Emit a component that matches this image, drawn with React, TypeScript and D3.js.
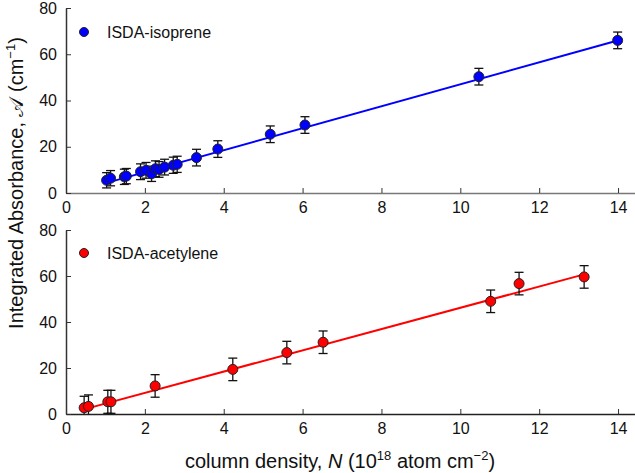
import React, { useEffect, useRef } from "react";
import * as d3 from "d3";

// ISDA-isoprene (top panel)
const isopreneN = [1.03, 1.13, 1.48, 1.53, 1.89, 2.03, 2.17, 2.27, 2.36, 2.5, 2.72, 2.82, 3.31, 3.85, 5.18, 6.06, 10.47, 13.99];
const isopreneA = [5.5, 6.4, 7.0, 7.3, 9.2, 9.8, 8.3, 10.5, 10.2, 11.2, 12.0, 12.4, 15.3, 19.0, 25.4, 29.4, 50.3, 66.0];
const isopreneErr = [3.3, 3.3, 3.3, 3.3, 3.4, 3.4, 3.3, 3.4, 3.4, 3.4, 3.5, 3.5, 3.6, 3.6, 3.6, 3.6, 3.6, 3.6];
const isopreneFit = { slope: 4.75, intercept: -0.5, from: 1.03, to: 13.99 };

// ISDA-acetylene (bottom panel)
const acetyleneN = [0.46, 0.57, 1.06, 1.14, 2.26, 4.23, 5.6, 6.52, 10.77, 11.49, 13.14];
const acetyleneA = [2.7, 3.3, 5.3, 5.3, 12.2, 19.4, 26.7, 31.2, 49.0, 56.7, 59.6];
const acetyleneErr = [5.0, 5.0, 5.0, 5.0, 4.9, 4.9, 4.9, 4.9, 4.9, 4.9, 4.9];
const acetyleneFit = { slope: 4.625, intercept: -0.07, from: 0.5, to: 13.14 };

const xTicks = [0, 2, 4, 6, 8, 10, 12, 14];
const yTicks = [0, 20, 40, 60, 80];

const W = 635;
const H = 473;
const FONT = "Liberation Sans, Arial, sans-serif";

const App = () => {
  const ref = useRef(null);

  useEffect(() => {
    const svg = d3.select(ref.current);
    svg.selectAll("*").remove();

    const x = d3.scaleLinear().domain([0, 14.43]).range([66, 635]);

    const panels = [
      { n: isopreneN, a: isopreneA, err: isopreneErr, fit: isopreneFit, top: 8, bottom: 193,
        color: "#0000ff", name: "ISDA-isoprene", xAxisColor: "#777", legY: 32 },
      { n: acetyleneN, a: acetyleneA, err: acetyleneErr, fit: acetyleneFit, top: 230, bottom: 414,
        color: "#ff0000", name: "ISDA-acetylene", xAxisColor: "#222", legY: 253 },
    ];

    panels.forEach((p) => {
      const y = d3.scaleLinear().domain([0, 80]).range([p.bottom, p.top]);
      const g = svg.append("g");

      // axes, ticks pointing inward
      const xAxis = g.append("g")
        .attr("transform", `translate(0,${p.bottom})`)
        .call(d3.axisBottom(x).tickValues(xTicks).tickSize(-5).tickPadding(9).tickSizeOuter(0));
      xAxis.select(".domain").attr("stroke", p.xAxisColor).attr("stroke-width", 1.5);
      xAxis.selectAll("line").attr("stroke", "#333");
      xAxis.selectAll("text").attr("font-size", 16).attr("fill", "#111").attr("font-family", FONT);

      const yAxis = g.append("g")
        .attr("transform", "translate(66,0)")
        .call(d3.axisLeft(y).tickValues(yTicks).tickSize(-5).tickPadding(9).tickSizeOuter(0));
      yAxis.select(".domain").attr("stroke", "#333").attr("stroke-width", 1.5);
      yAxis.selectAll("line").attr("stroke", "#333");
      yAxis.selectAll("text").attr("font-size", 16).attr("fill", "#111").attr("font-family", FONT);

      // fitted line
      const line = d3.line().x((d) => x(d)).y((d) => y(p.fit.slope * d + p.fit.intercept));
      g.append("path")
        .datum([p.fit.from, p.fit.to])
        .attr("d", line)
        .attr("fill", "none")
        .attr("stroke", p.color)
        .attr("stroke-width", 2);

      const idx = d3.range(p.n.length);

      // error bars
      const eb = g.append("g").attr("stroke", "#111").attr("stroke-width", 1.3);
      eb.selectAll(".v").data(idx).enter().append("line")
        .attr("x1", (i) => x(p.n[i])).attr("x2", (i) => x(p.n[i]))
        .attr("y1", (i) => y(Math.max(0, p.a[i] - p.err[i]))).attr("y2", (i) => y(p.a[i] + p.err[i]));
      eb.selectAll(".t").data(idx).enter().append("line")
        .attr("x1", (i) => x(p.n[i]) - 4.5).attr("x2", (i) => x(p.n[i]) + 4.5)
        .attr("y1", (i) => y(p.a[i] + p.err[i])).attr("y2", (i) => y(p.a[i] + p.err[i]));
      eb.selectAll(".b").data(idx.filter((i) => p.a[i] - p.err[i] > 0)).enter().append("line")
        .attr("x1", (i) => x(p.n[i]) - 4.5).attr("x2", (i) => x(p.n[i]) + 4.5)
        .attr("y1", (i) => y(p.a[i] - p.err[i])).attr("y2", (i) => y(p.a[i] - p.err[i]));

      // markers
      g.selectAll(".pt").data(idx).enter().append("circle")
        .attr("cx", (i) => x(p.n[i]))
        .attr("cy", (i) => y(p.a[i]))
        .attr("r", 5)
        .attr("fill", p.color)
        .attr("stroke", "#222")
        .attr("stroke-width", 1);

      // legend
      g.append("circle")
        .attr("cx", 84).attr("cy", p.legY).attr("r", 4.5)
        .attr("fill", p.color).attr("stroke", "#222");
      g.append("text")
        .attr("x", 107).attr("y", p.legY + 6)
        .attr("font-size", 16)
        .attr("font-family", FONT)
        .attr("fill", "#111")
        .text(p.name);
    });

    // axis titles
    const yt = svg.append("text")
      .attr("transform", "translate(23,183) rotate(-90)")
      .attr("text-anchor", "middle")
      .attr("font-size", 20)
      .attr("font-family", FONT)
      .attr("fill", "#111");
    yt.append("tspan").text("Integrated Absorbance, ");
    yt.append("tspan").attr("font-family", "DejaVu Serif, serif").text("𝒜");
    yt.append("tspan").text(" (cm");
    yt.append("tspan").attr("font-size", 13).attr("dy", -8).text("−1");
    yt.append("tspan").attr("dy", 8).text(")");

    const xt = svg.append("text")
      .attr("x", 340).attr("y", 468)
      .attr("text-anchor", "middle")
      .attr("font-size", 20)
      .attr("font-family", FONT)
      .attr("fill", "#111");
    xt.append("tspan").text("column density, ");
    xt.append("tspan").attr("font-style", "italic").text("N");
    xt.append("tspan").text(" (10");
    xt.append("tspan").attr("font-size", 13).attr("dy", -8).text("18");
    xt.append("tspan").attr("dy", 8).text(" atom cm");
    xt.append("tspan").attr("font-size", 13).attr("dy", -8).text("−2");
    xt.append("tspan").attr("dy", 8).text(")");
  }, []);

  return (
    <svg
      ref={ref}
      width={W}
      height={H}
      style={{ position: "absolute", left: 0, top: 0, background: "#fff" }}
    ></svg>
  );
};

export default App;
